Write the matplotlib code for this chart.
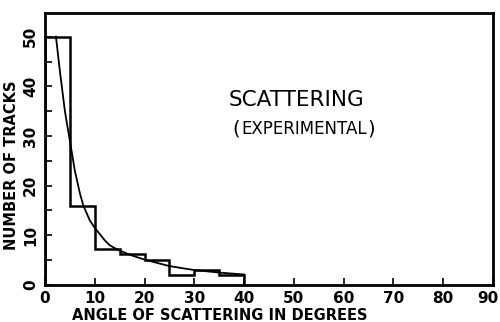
import numpy as np
import matplotlib
matplotlib.use('Agg')
from matplotlib import pyplot as plt
from matplotlib.ticker import MultipleLocator
from matplotlib.transforms import ScaledTranslation

# histogram of measured scattering angles (5 degree bins)
bin_edges = [0, 5, 10, 15, 20, 25, 30, 35, 40]
track_counts = [50, 16, 7.3, 6.3, 5.1, 2.1, 3.1, 2.1]

# smooth fitted curve
curve_angle = [2.2, 3, 4, 5, 6, 7, 7.7, 9, 10, 12, 13, 14.4, 17, 20, 25, 30, 35, 40]
curve_tracks = [50, 43, 35, 29, 23, 18.5, 16, 13, 11.5, 9, 8, 7.2, 6.1, 5.1,
                3.8, 3.0, 2.5, 2.1]

x_ticks = [0, 10, 20, 30, 40, 50, 60, 70, 80, 90]
y_ticks = [0, 10, 20, 30, 40, 50]


def main():
    plt.rcParams['font.family'] = 'DejaVu Sans'
    fig = plt.figure(figsize=(5.0, 3.22), dpi=100)
    ax = fig.add_axes([0.09, 0.115, 0.896, 0.845])

    ax.stairs(track_counts, bin_edges, color='black', linewidth=1.8)
    ax.plot(curve_angle, curve_tracks, color='black', linewidth=1.3)

    ax.set_xlim(0, 90)
    ax.set_ylim(0, 54.8)
    ax.set_xticks(x_ticks)
    ax.set_yticks(y_ticks)
    ax.yaxis.set_minor_locator(MultipleLocator(5))
    ax.tick_params(direction='in', length=5, width=1.2, labelsize=11)
    ax.tick_params(axis='y', which='minor', direction='in', length=5, width=1.2)
    ax.tick_params(axis='x', pad=4)
    ax.tick_params(axis='y', pad=5)
    for lab in ax.get_xticklabels():
        lab.set_fontweight('bold')
    # keep the last label inside the picture
    last = ax.get_xticklabels()[-1]
    last.set_transform(last.get_transform() +
                       ScaledTranslation(-4 / 72, 0, fig.dpi_scale_trans))
    for lab in ax.get_yticklabels():
        lab.set_fontweight('bold')
        lab.set_rotation(90)
        lab.set_va('center')

    for sp in ax.spines.values():
        sp.set_linewidth(2)

    ax.set_xlabel('ANGLE OF SCATTERING IN DEGREES', fontsize=10.5,
                  fontweight='bold')
    ax.xaxis.set_label_coords(0.39, -0.083)
    ax.set_ylabel('NUMBER OF TRACKS', fontsize=10.5, fontweight='bold')
    ax.yaxis.set_label_coords(-0.057, 0.44)

    ax.text(0.562, 0.68, 'SCATTERING', transform=ax.transAxes,
            fontsize=15.5, ha='center', va='center')
    ax.text(0.578, 0.575, 'EXPERIMENTAL', transform=ax.transAxes,
            fontsize=12, ha='center', va='center')
    ax.text(0.418, 0.575, '(', transform=ax.transAxes,
            fontsize=14, ha='left', va='center')
    ax.text(0.736, 0.575, ')', transform=ax.transAxes,
            fontsize=14, ha='right', va='center')

    fig.savefig('out.png', dpi=100)


if __name__ == '__main__':
    main()
